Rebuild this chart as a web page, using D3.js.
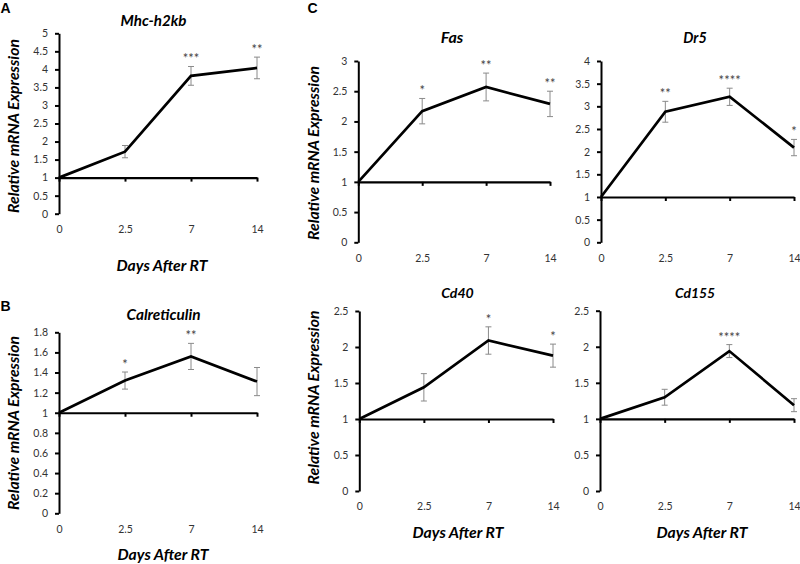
<!DOCTYPE html>
<html><head><meta charset="utf-8">
<script src="https://cdn.jsdelivr.net/npm/d3@7"></script>
<style>
body{margin:0;background:#fff}
text{font-family:Lato,"Noto Sans",sans-serif}
</style>
</head><body><svg id="c" width="800" height="564"></svg>
<script>
// ---- data ----
const days = ["0", "2.5", "7", "14"];

const mhcMean = [1, 1.72, 3.82, 4.04];
const mhcErr = [0, 0.17, 0.26, 0.30];
const mhcStars = ["", "", "***", "**"];
const mhcTicks = [0, 0.5, 1, 1.5, 2, 2.5, 3, 3.5, 4, 4.5, 5];

const calMean = [1, 1.32, 1.56, 1.31];
const calErr = [0, 0.085, 0.13, 0.14];
const calStars = ["", "*", "**", ""];
const calTicks = [0, 0.2, 0.4, 0.6, 0.8, 1, 1.2, 1.4, 1.6, 1.8];

const fasMean = [1, 2.17, 2.57, 2.29];
const fasErr = [0, 0.21, 0.23, 0.21];
const fasStars = ["", "*", "**", "**"];
const fasTicks = [0, 0.5, 1, 1.5, 2, 2.5, 3];

const dr5Mean = [1, 2.88, 3.21, 2.09];
const dr5Err = [0, 0.23, 0.19, 0.18];
const dr5Stars = ["", "**", "****", "*"];
const dr5Ticks = [0, 0.5, 1, 1.5, 2, 2.5, 3, 3.5, 4];

const cd40Mean = [1, 1.44, 2.09, 1.88];
const cd40Err = [0, 0.19, 0.19, 0.16];
const cd40Stars = ["", "", "*", "*"];
const cd40Ticks = [0, 0.5, 1, 1.5, 2, 2.5];

const cd155Mean = [1, 1.30, 1.94, 1.19];
const cd155Err = [0, 0.11, 0.09, 0.09];
const cd155Stars = ["", "", "****", ""];
const cd155Ticks = [0, 0.5, 1, 1.5, 2, 2.5];

const yLabel = "Relative mRNA Expression";
const xLabel = "Days After RT";

// ---- layout ----
const panels = [
  {title:"Mhc-h2kb", mean:mhcMean, err:mhcErr, stars:mhcStars, ticks:mhcTicks,
   box:[59,257,33.3,213.7], tx:153.5, ty:25.5, tw:66, ylab:[18.5,126], xlab:[162,271]},
  {title:"Calreticulin", mean:calMean, err:calErr, stars:calStars, ticks:calTicks,
   box:[59,257,332.3,513.3], tx:163.5, ty:319.5, tw:74, ylab:[18.5,423], xlab:[163,560]},
  {title:"Fas", mean:fasMean, err:fasErr, stars:fasStars, ticks:fasTicks,
   box:[358.3,550,61,242.3], tx:452, ty:42.5, tw:22.5, ylab:[319,153], xlab:null},
  {title:"Dr5", mean:dr5Mean, err:dr5Err, stars:dr5Stars, ticks:dr5Ticks,
   box:[601,794,61,242.3], tx:695, ty:42.5, tw:23.5, ylab:null, xlab:null},
  {title:"Cd40", mean:cd40Mean, err:cd40Err, stars:cd40Stars, ticks:cd40Ticks,
   box:[359.3,553,311,491], tx:457.5, ty:298, tw:32.5, ylab:[318.5,397.5], xlab:[458,537.5]},
  {title:"Cd155", mean:cd155Mean, err:cd155Err, stars:cd155Stars, ticks:cd155Ticks,
   box:[600,794,310.7,491], tx:695, ty:298, tw:40, ylab:null, xlab:[702,537.5]}
];

const svg = d3.select("#c");

// scale a text's font-size so its rendered width matches a target width
function fit(sel, target, base) {
  const w = sel.node().getComputedTextLength();
  if (w > 0) sel.style("font-size", (base * target / w).toFixed(2) + "px");
}

// panel letters
[["A",0.5,12.5],["B",0.5,311],["C",307.5,12.5]].forEach(([t,x,y])=>{
  svg.append("text").attr("x",x).attr("y",y).text(t)
    .style("font-family","'Liberation Sans',Arial,sans-serif")
    .style("font-weight","bold").style("font-size","14px").attr("fill","#000");
});

panels.forEach(p=>{
  const [x0,x1,yT,yB] = p.box;
  const x = d3.scalePoint().domain(days).range([x0,x1]).padding(0);
  const y = d3.scaleLinear().domain([0, d3.max(p.ticks)]).range([yB,yT]);
  const g = svg.append("g");
  const data = days.map((d,i)=>({d, m:p.mean[i], e:p.err[i], s:p.stars[i]}));

  // y axis
  const ya = g.append("g").attr("transform",`translate(${x0},0)`)
    .call(d3.axisLeft(y).tickValues(p.ticks).tickSize(4).tickSizeOuter(0).tickPadding(7)
      .tickFormat(d3.format("~g")));
  ya.select(".domain").attr("stroke","#000").attr("stroke-width",2);
  ya.selectAll(".tick line").attr("stroke","#000").attr("stroke-width",2);
  ya.selectAll(".tick text").attr("fill","#333").style("font-size","10.5px").style("font-family","Lato,sans-serif");

  // x axis line at y=1
  const xa = g.append("g").attr("transform",`translate(0,${y(1)})`)
    .call(d3.axisBottom(x).tickSize(4).tickSizeOuter(0).tickFormat(""));
  xa.select(".domain").attr("stroke","#000").attr("stroke-width",2.2);
  xa.selectAll(".tick line").attr("stroke","#000").attr("stroke-width",2);

  // x tick labels at bottom
  const xl = g.append("g").attr("transform",`translate(0,${yB})`)
    .call(d3.axisBottom(x).tickSize(0).tickPadding(12));
  xl.select(".domain").remove();
  xl.selectAll(".tick text").attr("fill","#333").style("font-size","10.5px").style("font-family","Lato,sans-serif");

  // error bars
  const eb = data.filter(d=>d.e>0);
  const cw = 3;
  g.selectAll(".ev").data(eb).join("line")
    .attr("x1",d=>x(d.d)).attr("x2",d=>x(d.d))
    .attr("y1",d=>y(d.m+d.e)).attr("y2",d=>y(d.m-d.e))
    .attr("stroke","#8a8a8a").attr("stroke-width",1);
  ["t","b"].forEach(sg=>{
    g.selectAll(".ec"+sg).data(eb).join("line")
      .attr("x1",d=>x(d.d)-cw).attr("x2",d=>x(d.d)+cw)
      .attr("y1",d=>y(sg==="t"?d.m+d.e:d.m-d.e)).attr("y2",d=>y(sg==="t"?d.m+d.e:d.m-d.e))
      .attr("stroke","#8a8a8a").attr("stroke-width",1);
  });

  // line
  g.append("path").datum(data)
    .attr("d", d3.line().x(d=>x(d.d)).y(d=>y(d.m)))
    .attr("fill","none").attr("stroke","#000").attr("stroke-width",2.7)
    .attr("stroke-linejoin","miter");

  // stars
  g.selectAll(".st").data(data.filter(d=>d.s)).join("text")
    .attr("x",d=>x(d.d)).attr("y",d=>y(d.m+d.e)-3)
    .attr("text-anchor","middle").text(d=>d.s)
    .attr("fill","#444").style("font-size","13px");

  // title
  const tt = g.append("text").attr("x",p.tx).attr("y",p.ty).attr("text-anchor","middle")
    .text(p.title).style("font-weight","bold").style("font-style","italic")
    .style("font-size","14px").attr("fill","#000");
  fit(tt, p.tw, 14);

  if (p.ylab) {
    const yl = g.append("text").attr("transform",`translate(${p.ylab[0]},${p.ylab[1]}) rotate(-90)`)
      .attr("text-anchor","middle").text(yLabel)
      .style("font-weight","bold").style("font-style","italic")
      .style("font-size","14px").attr("fill","#000");
    fit(yl, 174, 14);
  }
  if (p.xlab) {
    const xt = g.append("text").attr("x",p.xlab[0]).attr("y",p.xlab[1]).attr("text-anchor","middle")
      .text(xLabel).style("font-weight","bold").style("font-style","italic")
      .style("font-size","14px").attr("fill","#000");
    fit(xt, 91, 14);
  }
});
</script>
</body></html>
